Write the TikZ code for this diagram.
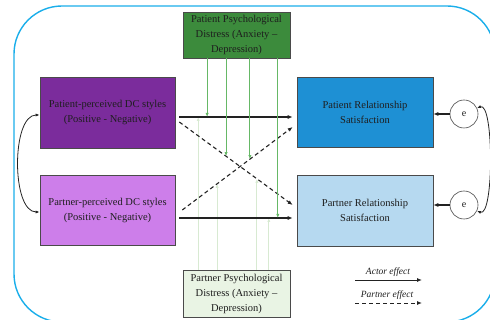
\documentclass[tikz,border=0pt]{standalone}
\usepackage{fontspec}
\setmainfont{Liberation Serif}
\usetikzlibrary{arrows.meta,calc}
\definecolor{frameblue}{HTML}{1AAEEA}
\definecolor{dgreen}{HTML}{3C8B3C}
\definecolor{lgreen}{HTML}{E9F4E4}
\definecolor{dpurple}{HTML}{7B2C9C}
\definecolor{lpurple}{HTML}{CD7EEA}
\definecolor{dblue}{HTML}{1E90D4}
\definecolor{lblue}{HTML}{B6D9F0}
\definecolor{boxedge}{HTML}{4A4A4A}
\definecolor{gline}{HTML}{66B866}
\definecolor{lline}{HTML}{D8EAD2}
\definecolor{txt}{HTML}{1E1E1E}
\definecolor{arrowdark}{HTML}{222222}
\begin{document}
\begin{tikzpicture}[x=1pt,y=1pt,
  box/.style={draw=boxedge, line width=0.6pt, inner sep=0pt, align=center,
    font=\fontsize{10.5}{15}\selectfont, text=txt},
  ecirc/.style={circle, draw=boxedge, line width=0.6pt, fill=white, minimum size=28pt,
    inner sep=0pt, font=\fontsize{10}{12}\selectfont, text=txt},
  act/.style={-{Latex[length=5pt,width=4pt]}, line width=1.1pt, draw=arrowdark},
  part/.style={act, dash pattern=on 4pt off 3pt},
  garr/.style={-{Latex[length=4pt,width=3.2pt]}, line width=1pt, draw=gline},
  larr/.style={-{Latex[length=4pt,width=3.2pt]}, line width=1pt, draw=lline},
  covar/.style={{Latex[length=4pt,width=3pt]}-{Latex[length=4pt,width=3pt]}, line width=0.8pt, draw=arrowdark},
  legend/.style={font=\itshape\fontsize{9.5}{11}\selectfont, text=txt, inner sep=0pt}]
\useasboundingbox (0,0) rectangle (490,-320);
\draw[frameblue, line width=1.4pt, rounded corners=48pt] (14,-6) rectangle (495,-322);

\node[box, fill=dgreen, minimum width=107pt, minimum height=46pt] (pdist) at (236.5,-35)
  {Patient Psychological\\Distress (Anxiety –\\Depression)};
\node[box, fill=lgreen, minimum width=107pt, minimum height=47pt] (ndist) at (236.5,-293.5)
  {Partner Psychological\\Distress (Anxiety –\\Depression)};
\node[box, fill=dpurple, minimum width=135pt, minimum height=71pt] (pdc) at (107.5,-112.5)
  {Patient-perceived DC styles\\(Positive - Negative)};
\node[box, fill=lpurple, minimum width=135pt, minimum height=70pt] (ndc) at (107.5,-210)
  {Partner-perceived DC styles\\(Positive - Negative)};
\node[box, fill=dblue, minimum width=136pt, minimum height=70pt] (prs) at (365,-112)
  {Patient Relationship\\Satisfaction};
\node[box, fill=lblue, minimum width=136pt, minimum height=71pt] (nrs) at (365,-210.5)
  {Partner Relationship\\Satisfaction};
\node[ecirc] (e1) at (464,-114) {e};
\node[ecirc] (e2) at (464,-205) {e};

% path end points
\coordinate (ta) at ($(pdc.east)+(4,-4.5)$);
\coordinate (tb) at ($(prs.west)+(-4,-5)$);
\coordinate (da) at ($(pdc.east)+(4,-9.5)$);
\coordinate (db) at ($(nrs.west)+(-4,5.5)$);
\coordinate (ua) at ($(ndc.east)+(7,0)$);
\coordinate (ub) at ($(prs.west)+(-4,-15)$);
\coordinate (ba) at ($(ndc.east)+(4,-8)$);
\coordinate (bb) at ($(nrs.west)+(-4,-7.5)$);

% moderator targets
\coordinate (g1) at ($(ta)!0.2456!(tb)$);
\coordinate (g2) at ($(da)!0.4123!(db)$);
\coordinate (g3) at ($(ua)!0.6126!(ub)$);
\coordinate (g4) at ($(ba)!0.8684!(bb)$);
\coordinate (l1) at ($(ta)!0.1667!(tb)$);
\coordinate (l2) at ($(ua)!0.3153!(ub)$);
\coordinate (l3) at ($(da)!0.6842!(db)$);
\coordinate (l4) at ($(ba)!0.7895!(bb)$);

% light (partner distress) lines first
\draw[larr] (ndist.north -| l1) -- (l1);
\draw[larr] (ndist.north -| l2) -- (l2);
\draw[larr] (ndist.north -| l3) -- (l3);
\draw[larr] (ndist.north -| l4) -- (l4);

% main effects
\draw[act] (ta) -- (tb);
\draw[act] (ba) -- (bb);
\draw[part] (da) -- (db);
\draw[part] (ua) -- (ub);

% patient distress lines
\draw[garr] (pdist.south -| g1) -- (g1);
\draw[garr] (pdist.south -| g2) -- (g2);
\draw[garr] (pdist.south -| g3) -- (g3);
\draw[garr] (pdist.south -| g4) -- (g4);

% residuals
\draw[act] (e1.west) -- (prs.east |- e1.west);
\draw[act] (e2.west) -- (nrs.east |- e2.west);
\draw[covar] (e1.25) to[out=20,in=-20,looseness=0.45] (e2.-25);
\draw[covar] ($(pdc.west)+(0,-2.5)$) to[out=180,in=180,looseness=0.75] ($(ndc.west)+(0,-2)$);

% legend
\node[legend] (lact) at (388,-272) {Actor effect};
\node[legend] (lpar) at (387,-295) {Partner effect};
\coordinate (la1) at (355,-280);
\coordinate (la2) at (422,-280);
\coordinate (lp1) at (355,-303);
\coordinate (lp2) at (422,-303);
\draw[act, line width=0.9pt] (la1) -- (la2);
\draw[part, line width=0.9pt] (lp1) -- (lp2);
\end{tikzpicture}
\end{document}
